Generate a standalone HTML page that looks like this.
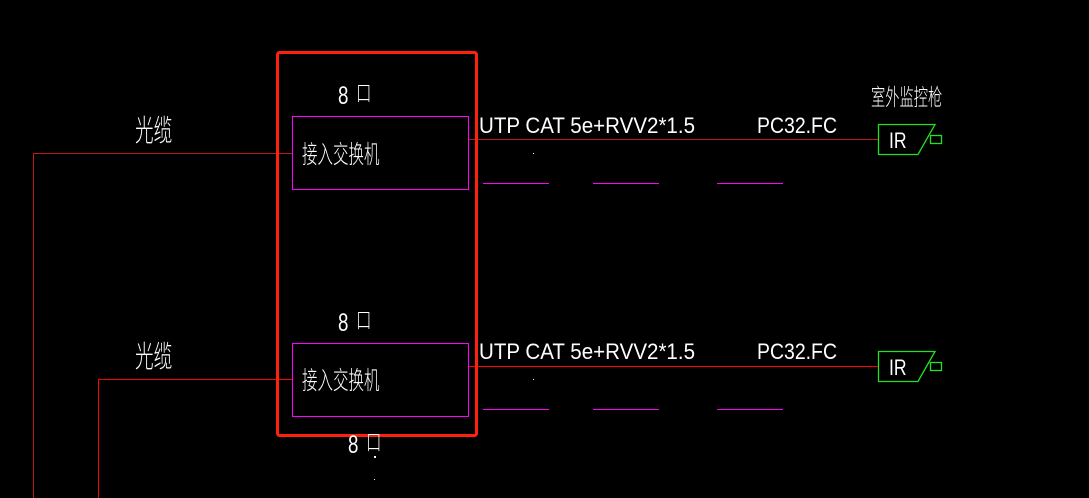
<!DOCTYPE html>
<html><head><meta charset="utf-8"><style>
html,body{margin:0;padding:0;background:#000;width:1089px;height:498px;overflow:hidden}
svg{display:block}
text{fill:#fff;font-family:"Liberation Sans","Noto Sans CJK SC",sans-serif}
.c{font-family:"Noto Sans CJK SC","WenQuanYi Zen Hei",sans-serif;font-weight:300}
</style></head><body>
<svg width="1089" height="498" viewBox="0 0 1089 498" xmlns="http://www.w3.org/2000/svg">
<g stroke="#c01818" stroke-width="1" fill="none" shape-rendering="crispEdges">
<polyline points="33.5,498 33.5,153.5 292,153.5"/>
<line x1="469" y1="139.5" x2="878" y2="139.5"/>
</g>
<g stroke="#ff0000" stroke-width="1" fill="none" shape-rendering="crispEdges">
<polyline points="98.5,498 98.5,379.5 292,379.5"/>
<line x1="469" y1="366.5" x2="878" y2="366.5"/>
</g>
<g stroke="#ff00ff" stroke-width="1" fill="none" shape-rendering="crispEdges">
<rect x="292.5" y="116.5" width="176" height="73"/>
<rect x="292.5" y="343.5" width="176" height="73"/>
<line x1="483" y1="183.5" x2="549" y2="183.5"/>
<line x1="593" y1="183.5" x2="659" y2="183.5"/>
<line x1="717" y1="183.5" x2="783" y2="183.5"/>
<line x1="483" y1="409.5" x2="549" y2="409.5"/>
<line x1="593" y1="409.5" x2="659" y2="409.5"/>
<line x1="717" y1="409.5" x2="783" y2="409.5"/>
</g>
<rect x="277.5" y="52.5" width="199" height="383" rx="2" fill="none" stroke="#ff2010" stroke-width="3"/>
<g stroke="#22e022" stroke-width="1.3" fill="none">
<polygon points="878.5,124.5 935,124.5 918,154.5 878.5,154.5"/>
<rect x="930.5" y="135.5" width="11" height="8"/>
<polygon points="878.5,351.5 935,351.5 918,381.5 878.5,381.5"/>
<rect x="930.5" y="362.5" width="11" height="8"/>
</g>
<g font-size="22">
<text transform="translate(889,148) scale(0.8,1)">IR</text>
<text transform="translate(889,375) scale(0.8,1)">IR</text>
</g>
<g font-size="25">
<text transform="translate(338,104) scale(0.75,1)">8</text>
<text class="c" transform="translate(356,101) scale(0.7,1)" font-size="22">口</text>
<text transform="translate(338,331) scale(0.75,1)">8</text>
<text class="c" transform="translate(356,328) scale(0.7,1)" font-size="22">口</text>
<text transform="translate(348,453) scale(0.75,1)">8</text>
<text class="c" transform="translate(366,450) scale(0.7,1)" font-size="22">口</text>
</g>
<g class="c" font-size="30">
<text transform="translate(135,141) scale(0.62,1)">光缆</text>
<text transform="translate(135,367) scale(0.62,1)">光缆</text>
</g>
<g class="c" font-size="25">
<text transform="translate(302,163) scale(0.62,1)">接入交换机</text>
<text transform="translate(302,389) scale(0.62,1)">接入交换机</text>
</g>
<text class="c" font-size="23" transform="translate(871,105) scale(0.62,1)">室外监控枪</text>
<g font-size="22">
<text x="479" y="133" textLength="216" lengthAdjust="spacingAndGlyphs">UTP  CAT 5e+RVV2*1.5</text>
<text x="757" y="133" textLength="80" lengthAdjust="spacingAndGlyphs">PC32.FC</text>
<text x="479" y="359" textLength="216" lengthAdjust="spacingAndGlyphs">UTP  CAT 5e+RVV2*1.5</text>
<text x="757" y="359" textLength="80" lengthAdjust="spacingAndGlyphs">PC32.FC</text>
</g>
<g fill="#fff">
<rect x="533" y="153" width="1" height="1"/>
<rect x="533" y="379" width="1" height="1"/>
<rect x="374" y="456" width="2" height="2"/>
<rect x="374" y="479" width="1" height="1"/>
</g>
</svg>
</body></html>
